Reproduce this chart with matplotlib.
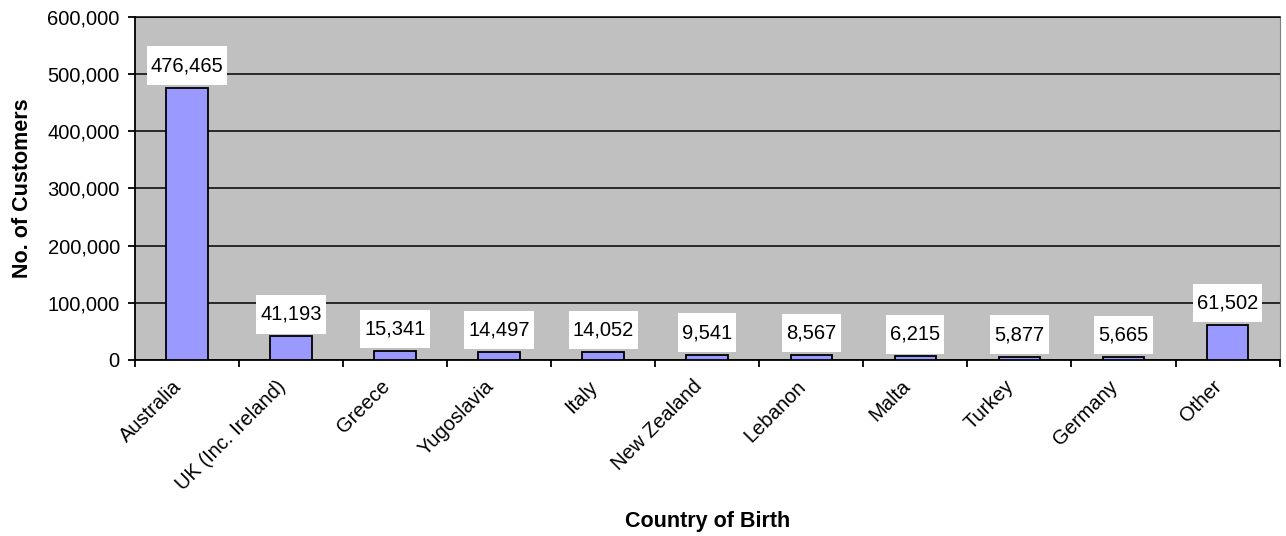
import numpy as np
import matplotlib
matplotlib.use("Agg")
from matplotlib import pyplot as plt
from matplotlib.ticker import FuncFormatter
from matplotlib.transforms import ScaledTranslation

countries = ["Australia", "UK (Inc. Ireland)", "Greece", "Yugoslavia", "Italy",
             "New Zealand", "Lebanon", "Malta", "Turkey", "Germany", "Other"]
customers = [476465, 41193, 15341, 14497, 14052, 9541, 8567, 6215, 5877, 5665, 61502]

plt.rcParams['font.family'] = ['Liberation Sans', 'DejaVu Sans']

fig = plt.figure(figsize=(12.86, 5.36), dpi=100)
ax = fig.add_axes([0.105, 0.3284, 0.890, 0.640])
ax.set_facecolor("#c0c0c0")

x = np.arange(len(countries))
ax.bar(x, customers, width=0.40, color="#9999ff", edgecolor="black", linewidth=1.3, zorder=3)

# value labels in white boxes (taller than wide padding, like Excel)
for xi, v in zip(x, customers):
    ax.annotate(f"{v:,}", (xi, v), xytext=(0, 9), textcoords="offset points",
                ha="center", va="bottom", fontsize=14.5, zorder=4,
                bbox=dict(boxstyle="square,pad=0.2", fc="white", ec="none",
                          mutation_aspect=2.4))

ax.set_xlim(-0.5, len(countries) - 0.5)
ax.set_ylim(0, 600000)
ax.set_yticks(np.arange(0, 600001, 100000))
ax.yaxis.set_major_formatter(FuncFormatter(lambda v, p: f"{int(v):,}"))
ax.grid(axis="y", color="black", linewidth=1.1, zorder=1)

ax.set_xticks(np.arange(-0.5, len(countries), 1.0))
ax.set_xticklabels([])
ax.set_xticks(x, minor=True)
ax.set_xticklabels(countries, minor=True, rotation=45, ha="right", va="center",
                   rotation_mode="anchor", fontsize=14.5)
ax.tick_params(axis="x", which="minor", length=0, pad=17)
ax.tick_params(axis="x", which="major", length=5, width=1.3)
ax.tick_params(axis="y", length=5, width=1.3, labelsize=14.5, pad=6)

# nudge the slanted labels a little to the left, as in the original
shift = ScaledTranslation(-6 / 72, 0, fig.dpi_scale_trans)
for lab in ax.get_xticklabels(minor=True):
    lab.set_transform(lab.get_transform() + shift)

for side in ["left", "bottom"]:
    ax.spines[side].set_linewidth(1.3)
ax.spines["top"].set_linewidth(1.1)
ax.spines["right"].set_color("#808080")

ax.set_ylabel("No. of Customers", fontsize=15.5, fontweight="bold", va="center")
ax.yaxis.set_label_coords(-0.0987, 0.5)
ax.set_xlabel("Country of Birth", fontsize=15.5, fontweight="bold", va="center")
ax.xaxis.set_label_coords(0.5, -0.472)

fig.savefig("out.png", dpi=100)
